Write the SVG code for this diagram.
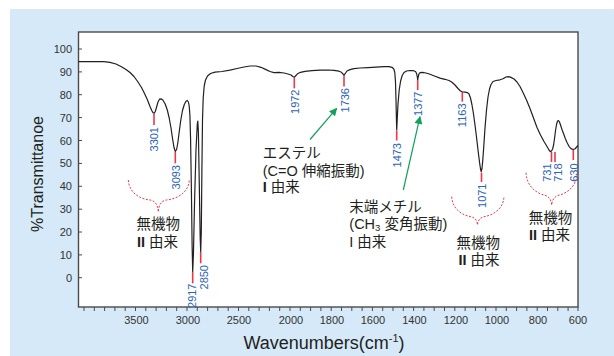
<svg xmlns="http://www.w3.org/2000/svg" width="614" height="356" viewBox="0 0 614 356">
<defs>
<style>
.sans{font-family:"Liberation Sans","Noto Sans CJK JP",sans-serif;}
.tick{stroke:#4a4a4a;stroke-width:1;}
.tl{font-family:"Liberation Sans",sans-serif;font-size:11px;fill:#333;}
.pk{stroke:#e8394b;stroke-width:1.6;}
.pl{font-family:"Liberation Sans",sans-serif;font-size:11px;fill:#2a64b5;text-anchor:end;}
.brace{fill:none;stroke:#e8394b;stroke-width:1;stroke-dasharray:2 1.5;}
.jp{font-family:"Liberation Sans","Noto Sans CJK JP",sans-serif;font-size:14.5px;fill:#231f20;}
.arrow{stroke:#14a05c;stroke-width:1.2;fill:none;}
</style>
<marker id="ah" viewBox="0 0 10 10" refX="9" refY="5" markerWidth="9" markerHeight="8" markerUnits="userSpaceOnUse" orient="auto">
<path d="M0,0 L10,5 L0,10 z" fill="#14a05c"/>
</marker>
</defs>

<rect id="panel" x="10" y="9" width="604" height="347" fill="#d5e9f8"/>
<rect id="plot-frame" x="78.5" y="32" width="499.5" height="275" fill="#ffffff" stroke="#4a4a4a" stroke-width="1.4"/>

<g id="y-axis">
<g class="tick">
<line x1="78.5" y1="49" x2="82" y2="49"/>
<line x1="78.5" y1="71.9" x2="82" y2="71.9"/>
<line x1="78.5" y1="94.7" x2="82" y2="94.7"/>
<line x1="78.5" y1="117.6" x2="82" y2="117.6"/>
<line x1="78.5" y1="140.5" x2="82" y2="140.5"/>
<line x1="78.5" y1="163.4" x2="82" y2="163.4"/>
<line x1="78.5" y1="186.3" x2="82" y2="186.3"/>
<line x1="78.5" y1="209.2" x2="82" y2="209.2"/>
<line x1="78.5" y1="232" x2="82" y2="232"/>
<line x1="78.5" y1="254.9" x2="82" y2="254.9"/>
<line x1="78.5" y1="277.7" x2="82" y2="277.7"/>
</g>
<g class="tl" text-anchor="end">
<text x="72" y="53">100</text>
<text x="72" y="75.9">90</text>
<text x="72" y="98.7">80</text>
<text x="72" y="121.6">70</text>
<text x="72" y="144.5">60</text>
<text x="72" y="167.4">50</text>
<text x="72" y="190.3">40</text>
<text x="72" y="213.2">30</text>
<text x="72" y="236">20</text>
<text x="72" y="258.9">10</text>
<text x="72" y="281.7">0</text>
</g>
<text class="sans" transform="translate(43,174) rotate(-90)" text-anchor="middle" font-size="16" fill="#231f20">%Transmittanoe</text>
</g>

<g id="x-axis">
<path class="tick" d="M84,307v4 M94.3,307v4 M104.6,307v4 M114.9,307v4 M125.2,307v4 M135.5,307v4 M145.8,307v4 M156.1,307v4 M166.4,307v4 M176.7,307v4 M187,307v4 M197.3,307v4 M207.6,307v4 M217.9,307v4 M228.2,307v4 M238.5,307v4 M248.8,307v4 M259.1,307v4 M269.4,307v4 M279.7,307v4 M290,307v4 M300.3,307v4 M310.6,307v4 M320.9,307v4 M331.2,307v4 M341.5,307v4 M351.8,307v4 M362.1,307v4 M372.4,307v4 M382.7,307v4 M393,307v4 M403.3,307v4 M413.6,307v4 M423.9,307v4 M434.2,307v4 M444.5,307v4 M454.8,307v4 M465.1,307v4 M475.4,307v4 M485.7,307v4 M496,307v4 M506.3,307v4 M516.6,307v4 M526.9,307v4 M537.2,307v4 M547.5,307v4 M557.8,307v4 M568.1,307v4 M578,307v4"/>
<g class="tl" text-anchor="middle">
<text x="136.5" y="323.5">3500</text>
<text x="188" y="323.5">3000</text>
<text x="239" y="323.5">2500</text>
<text x="291" y="323.5">2000</text>
<text x="332" y="323.5">1800</text>
<text x="373" y="323.5">1600</text>
<text x="414.5" y="323.5">1400</text>
<text x="456" y="323.5">1200</text>
<text x="497" y="323.5">1000</text>
<text x="538" y="323.5">800</text>
<text x="578" y="323.5">600</text>
</g>
<text class="sans" x="324" y="349" text-anchor="middle" font-size="18" fill="#231f20">Wavenumbers(cm<tspan font-size="11" dy="-7">-1</tspan><tspan dy="7">)</tspan></text>
</g>

<g id="spectrum">
<path fill="none" stroke="#231f20" stroke-width="1.2" stroke-linejoin="round" d="M78.5,61.7 L104,61.7 L110,62.3 L116,64 L121,66.5 L126,69.5 L130,72.5 L134,76.5 L138,82 L141.5,87.5 L144.5,93.5 L147.5,100 L150,106.5 L152,111 L153.2,112.9 L154.2,113.2 L155.3,111.5 L156.6,107 L158,102 L159.5,99.2 L161,98.8 L163,100.3 L165.2,104 L167.3,110 L169.2,118 L171,128 L172.6,139 L174,147.5 L175.3,151.5 L176.6,149.5 L177.8,143 L179.2,132 L180.8,120 L182.5,110.5 L184.3,104.5 L186,101.3 L187.3,100.5 L188.4,102 L189.2,106 L189.9,115 L190.6,140 L191.4,190 L192.1,245 L192.7,271.7 L193.4,255 L194.6,200 L196,150 L197.3,124 L197.8,121 L198.4,132 L199.3,185 L200.2,238 L200.7,251.7 L201.3,232 L201.9,170 L202.5,120 L203.2,98 L204.2,86 L205.5,80 L207.5,76 L210.5,73.5 L215,72.2 L222,71.5 L230,70.2 L237,68.5 L244,67 L250,66 L256,66 L261,67.3 L266,69.6 L270,71.5 L274,72.6 L279,72.3 L284,73 L288,74 L291,75 L293.2,76.8 L294.3,77.3 L295.5,76 L297.5,73.8 L300.5,72.3 L305,71.3 L312,70.6 L320,70.2 L328,70 L334,70.3 L339,71.2 L341.5,72.3 L343,74 L344,75.3 L345.2,73.5 L347,71 L350,69.6 L354,68.6 L360,68 L368,67.6 L376,67.1 L384,66.6 L389,66.6 L392,67.3 L393.8,69 L394.8,72.5 L395.5,82 L396,100 L396.4,118 L396.7,130 L397.2,120 L398,104 L399.2,90 L400.6,81 L402.2,75.5 L404,72.5 L406.5,71 L410,70.5 L413.5,70.7 L415.5,71.5 L416.6,73.5 L417.3,77 L417.7,80 L418.2,77 L418.9,74 L420,72.6 L422.5,72.4 L426,73 L430,74.3 L435,76.2 L440,78.1 L445,79.3 L449,80.5 L452,82.3 L455,85 L458,88.5 L460.5,91 L462.3,91.8 L465,92.1 L467.5,92.6 L469,94 L470.5,98 L472,105 L473.5,114 L475,125 L476.5,137 L478,150 L479.5,162 L480.5,169 L481.2,171.6 L482,168.5 L482.8,160 L483.8,146 L485,128 L486.5,110 L488,97 L489.5,89 L491,84.5 L493,81.5 L496,80.5 L500,79.8 L503,78.8 L506,77 L508.5,76.6 L511,77.4 L514,79 L517,82 L520,86.5 L523,92.5 L526.5,100 L530,108.5 L533.5,118 L537,127.5 L540.5,135 L544,141.5 L547,146.5 L549,150 L550.3,151.6 L551.5,151 L552.6,149 L553.6,145 L554.6,138 L555.6,130 L556.6,124 L557.6,121 L558.5,120.5 L559.5,122 L560.7,125.5 L562,129.5 L563.5,133.5 L565.3,138.5 L567,142.5 L569,146.3 L571,148.6 L573,149.5 L574.8,149 L576.2,147.5 L578,145.5"/>
</g>

<g id="peak-3301"><line class="pk" x1="154" y1="113.5" x2="154" y2="125"/><text class="pl" transform="translate(158,127) rotate(-90)">3301</text></g>
<g id="peak-3093"><line class="pk" x1="175.3" y1="152" x2="175.3" y2="163.3"/><text class="pl" transform="translate(179.5,165) rotate(-90)">3093</text></g>
<g id="peak-2917"><line class="pk" x1="192.7" y1="272" x2="192.7" y2="283.3"/><text class="pl" transform="translate(196,283.5) rotate(-90)">2917</text></g>
<g id="peak-2850"><line class="pk" x1="200.7" y1="252" x2="200.7" y2="263.3"/><text class="pl" transform="translate(207.5,265) rotate(-90)">2850</text></g>
<g id="peak-1972"><line class="pk" x1="294.3" y1="77.5" x2="294.3" y2="88.3"/><text class="pl" transform="translate(299,89.5) rotate(-90)">1972</text></g>
<g id="peak-1736"><line class="pk" x1="344" y1="75.5" x2="344" y2="86.5"/><text class="pl" transform="translate(349,88) rotate(-90)">1736</text></g>
<g id="peak-1473"><line class="pk" x1="396.7" y1="130.5" x2="396.7" y2="140.5"/><text class="pl" transform="translate(400.7,143) rotate(-90)">1473</text></g>
<g id="peak-1377"><line class="pk" x1="417.7" y1="80" x2="417.7" y2="90"/><text class="pl" transform="translate(422.3,91.5) rotate(-90)">1377</text></g>
<g id="peak-1163"><line class="pk" x1="462.3" y1="92" x2="462.3" y2="101.7"/><text class="pl" transform="translate(466.3,103.5) rotate(-90)">1163</text></g>
<g id="peak-1071"><line class="pk" x1="481.5" y1="172.5" x2="481.5" y2="182"/><text class="pl" transform="translate(485.7,183.5) rotate(-90)">1071</text></g>
<g id="peak-731"><line class="pk" x1="551.5" y1="152" x2="551.5" y2="162"/><text class="pl" transform="translate(551,163.5) rotate(-90)">731</text></g>
<g id="peak-718"><line class="pk" x1="555" y1="152" x2="555" y2="162"/><text class="pl" transform="translate(561.5,163.5) rotate(-90)">718</text></g>
<g id="peak-630"><line class="pk" x1="573.3" y1="150" x2="573.3" y2="160"/><text class="pl" transform="translate(578,163.5) rotate(-90)">630</text></g>

<g id="inorganic-left">
<path class="brace" d="M128.3,180 C129,193 140,199 150,200 C155.5,200.8 157.8,205 158.3,212 C158.8,205 161,200.8 166.5,200 C176.5,199 188.6,193 189.3,180"/>
<text class="jp" x="158.3" y="229" text-anchor="middle">無機物</text>
<text class="jp" x="157.5" y="247" text-anchor="middle"><tspan font-weight="bold">II</tspan> 由来</text>
</g>
<g id="inorganic-middle">
<path class="brace" d="M451.7,196.7 C452.3,209 462,215 470,216.5 C475,217.5 477,220 477.5,225 C478,220 480,217.5 485,216.5 C493,215 503.4,209 504,196.7"/>
<text class="jp" x="478.3" y="248" text-anchor="middle">無機物</text>
<text class="jp" x="479" y="265" text-anchor="middle"><tspan font-weight="bold">II</tspan> 由来</text>
</g>
<g id="inorganic-right">
<path class="brace" d="M526,172.7 C526.6,186 536,193 544,195 C549.5,196.5 551.2,200 551.7,205 C552.2,200 554,196.5 559.5,195 C567.5,193 576.7,186 577.3,172.7"/>
<text class="jp" x="550.5" y="223" text-anchor="middle">無機物</text>
<text class="jp" x="549.5" y="240" text-anchor="middle"><tspan font-weight="bold">II</tspan> 由来</text>
</g>

<g id="ester-note">
<text class="jp" x="262.7" y="158">エステル</text>
<text class="jp" x="262.7" y="175.5">(C=O 伸縮振動)</text>
<text class="jp" x="262.7" y="192"><tspan font-weight="bold">I</tspan> 由来</text>
</g>
<g id="methyl-note">
<text class="jp" x="349.3" y="211.5">末端メチル</text>
<text class="jp" x="349.3" y="229">(CH<tspan font-size="9.5" dy="2">3</tspan><tspan dy="-2"> 変角振動)</tspan></text>
<text class="jp" x="349.3" y="246.5">I 由来</text>
</g>

<g id="connectors">
<line class="arrow" x1="310" y1="139.5" x2="336.7" y2="108.3" marker-end="url(#ah)"/>
<line class="arrow" x1="403.3" y1="190" x2="420" y2="116.7" marker-end="url(#ah)"/>
</g>
</svg>
